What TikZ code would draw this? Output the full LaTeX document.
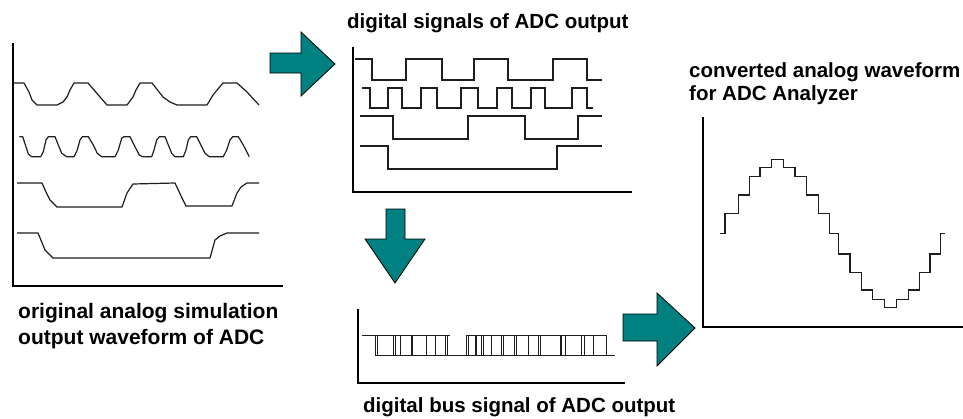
\documentclass[tikz,border=0pt]{standalone}
\usepackage{fontspec}
\setmainfont{Liberation Sans}
\definecolor{teal1}{RGB}{0,128,128}
\definecolor{wavec}{RGB}{30,30,30}
\tikzset{
  axisline/.style={draw=black, line width=1.3pt},
  wave/.style={draw=wavec, line width=1.2pt, line join=round},
  digwave/.style={draw=wavec, line width=1.2pt, line join=miter},
  busline/.style={draw=wavec, line width=1pt},
  blockarrow/.style={fill=teal1, draw=black, line width=0.8pt, line join=miter},
  lbl/.style={inner sep=0pt, anchor=base west, font=\bfseries\fontsize{20.5}{24}\selectfont}
}
\begin{document}
\begin{tikzpicture}[x=1pt, y=-1pt]
\useasboundingbox (0,0) rectangle (963,418);
\fill[white] (0,0) rectangle (963,418);

% ---------- left panel: analog waveforms ----------
\draw[axisline] (13,43) -- (13,286) -- (283,286);
\draw[wave] (13,83) -- (24,83) -- (29,92) -- (32,100) -- (37,105) -- (57,105) -- (63,102) -- (67,97) -- (70,90) -- (74,83) -- (88,83) -- (100,97) -- (107,105) -- (127,105) -- (133,97) -- (136,90) -- (140,83) -- (152,83) -- (163,97) -- (170,102) -- (177,105) -- (207,105) -- (213,95) -- (218,89) -- (223,83) -- (237,83) -- (247,92) -- (259,105);
\draw[wave] (19.3,136.7) -- (22.7,136.7) -- (26,146.7) -- (28.3,154) -- (31.7,156.7) -- (40.7,156.7) -- (43.3,151.7) -- (46,140) -- (48.3,136.7) -- (55,136.7) -- (58.3,145) -- (61.7,153.3) -- (66.7,156.7) -- (74,156.7) -- (77.3,150) -- (80,140) -- (82.3,136.7) -- (88.3,136.7) -- (93.3,145) -- (97.3,153.3) -- (101.7,156.7) -- (115,156.7) -- (118.3,150) -- (121.7,138.3) -- (124,136.7) -- (130,136.7) -- (135,146.7) -- (139.3,155) -- (142.7,156.7) -- (151.7,156.7) -- (154,150) -- (156.7,140) -- (159.3,136.7) -- (165,136.7) -- (168.3,145) -- (171.7,153.3) -- (175,156.7) -- (183.3,156.7) -- (186,150) -- (188.3,140) -- (190.7,136.7) -- (196.7,136.7) -- (201.7,146.7) -- (205,153.3) -- (209.3,156.7) -- (223.3,156.7) -- (226.7,150) -- (230,140) -- (232.7,136.7) -- (238.3,136.7) -- (243.3,145) -- (249.3,156.7);
\draw[wave] (17,183) -- (42,183) -- (46,192) -- (50,200) -- (57,207) -- (122,207) -- (127,193) -- (133,184) -- (175,183) -- (182,198) -- (186,206) -- (232,206) -- (237,193) -- (241,187) -- (247,183) -- (259,183);
\draw[wave] (17,233) -- (38,233) -- (45,250) -- (53,258) -- (210,258) -- (215,240) -- (220,236) -- (227,233) -- (259,233);
\node[lbl, font=\bfseries\fontsize{21}{24}\selectfont] (lefttxt1) at (18,318) {original analog simulation};
\node[lbl, font=\bfseries\fontsize{21}{24}\selectfont] (lefttxt2) at (18,344) {output waveform of ADC};

% ---------- arrow 1 (right) ----------
\draw[blockarrow] (270,53) -- (301,53) -- (301,32) -- (335,64) -- (301,96) -- (301,73) -- (270,73) -- cycle;

% ---------- middle panel: digital signals ----------
\node[lbl] (midtxt) at (347,28) {digital signals of ADC output};
\draw[axisline] (353,47) -- (353,192) -- (632,192);
\draw[digwave] (355,59) -- (372,59) |- (406,80) |- (442,59) |- (474,80) |- (508,59) |- (553,80) |- (587,59) |- (602,80);
\draw[digwave] (362,88) -- (370,88) |- (388,108) |- (402,88) |- (421,108) |- (437,88) |- (461,108) |- (478,88) |- (497,108) |- (512,88) |- (531,108) |- (545,88) |- (572,108) |- (587,88) |- (593,108);
\draw[digwave] (360,116) -- (393,116) |- (468,139) |- (525,116) |- (578,139) |- (602,116);
\draw[digwave] (360,146) -- (388,146) |- (557,169) |- (602,146);

% ---------- arrow 2 (down) ----------
\draw[blockarrow] (386,209) -- (405,209) -- (405,239) -- (425,239) -- (395,283) -- (365,239) -- (386,239) -- cycle;

% ---------- bottom panel: bus signal ----------
\draw[axisline] (358,309) -- (358,383) -- (625,383);
\draw[busline] (362,335) -- (450,335);
\draw[busline] (466.7,335) -- (606.7,335);
\draw[busline] (375,355) -- (615,355);
\foreach \xx in {375,377.7,393.3,395.7,400,411,412.3,426.7,435,445,447.7,466.7,468.3,475,476.7,481.7,483.3,491.7,501.7,503.3,514.3,516.7,528.3,538.3,540,560,561.7,565,581.7,584.3,593.3,606.7}
  \draw[busline] (\xx,335) -- (\xx,355);
\node[lbl] (bottxt) at (363,412) {digital bus signal of ADC output};

% ---------- arrow 3 (right) ----------
\draw[blockarrow] (623,314) -- (657,314) -- (657,293) -- (695,328) -- (657,366) -- (657,341) -- (623,341) -- cycle;

% ---------- right panel: converted waveform ----------
\node[lbl] (righttxt1) at (689,77) {converted analog waveform};
\node[lbl] (righttxt2) at (689,100) {for ADC Analyzer};
\draw[axisline] (703,117) -- (703,327) -- (963,327);
\draw[digwave] (720,233.3) -- (725,233.3) |- (738.3,213.3) |- (749.3,195) |- (760,176.7) |- (771.7,167.3) |- (783.3,159.3) |- (795,167.3) |- (806.7,176.7) |- (818.3,195) |- (829.3,213.3) |- (838.3,233.3) |- (850,254) |- (861.7,272.7) |- (872.7,290) |- (884.3,299.3) |- (896.7,307.7) |- (908.3,299.3) |- (919.3,290) |- (930,272.7) |- (940.7,254) |- (945,233.3);
\end{tikzpicture}
\end{document}
